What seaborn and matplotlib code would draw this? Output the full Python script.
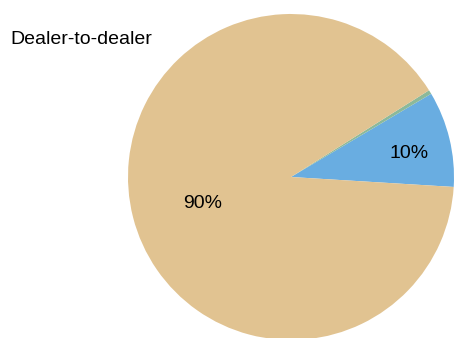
import matplotlib
matplotlib.use("Agg")
import matplotlib.pyplot as plt
import numpy as np
import seaborn as sns

# Data
categories = ["Dealer-to-customer", "Other", "Dealer-to-dealer"]
values = [9.5, 0.4, 90.1]
colors = ["#69ADE1", "#8CB99A", "#E1C391"]
label_dist = [0.74, 0.6, 0.56]
label_rot = [-1.5, 0.0, 1.0]
panel_title = "Dealer-to-dealer"

sns.set_theme(style="white")
plt.rcParams['font.family'] = ['Liberation Sans', 'DejaVu Sans']

fig = plt.figure(figsize=(4.54, 3.38), dpi=100)
W, H = 454, 338
cx, cy, r = 291, 177, 163
ax = fig.add_axes([(cx - r) / W, (H - cy - r) / H, 2 * r / W, 2 * r / H])

def fmt(p):
    return f"{p:.0f}%" if p >= 1 else ""

wedges, texts, autotexts = ax.pie(
    values, colors=colors, startangle=-3.5, counterclock=True,
    autopct=fmt, radius=1.0, wedgeprops=dict(linewidth=0),
    textprops=dict(fontsize=14, color="black"))

for w, t, d, rot in zip(wedges, autotexts, label_dist, label_rot):
    ang = np.deg2rad((w.theta1 + w.theta2) / 2 + rot)
    t.set_position((d * np.cos(ang), d * np.sin(ang)))
    t.set_ha("center")
    t.set_va("center_baseline")

ax.set_xlim(-1, 1)
ax.set_ylim(-1, 1)
ax.set_aspect("equal")
ax.axis("off")

fig.text(10 / W, 1 - 44 / H, panel_title, fontsize=14, ha="left", va="baseline", color="black")

fig.savefig("out.png", dpi=100)
